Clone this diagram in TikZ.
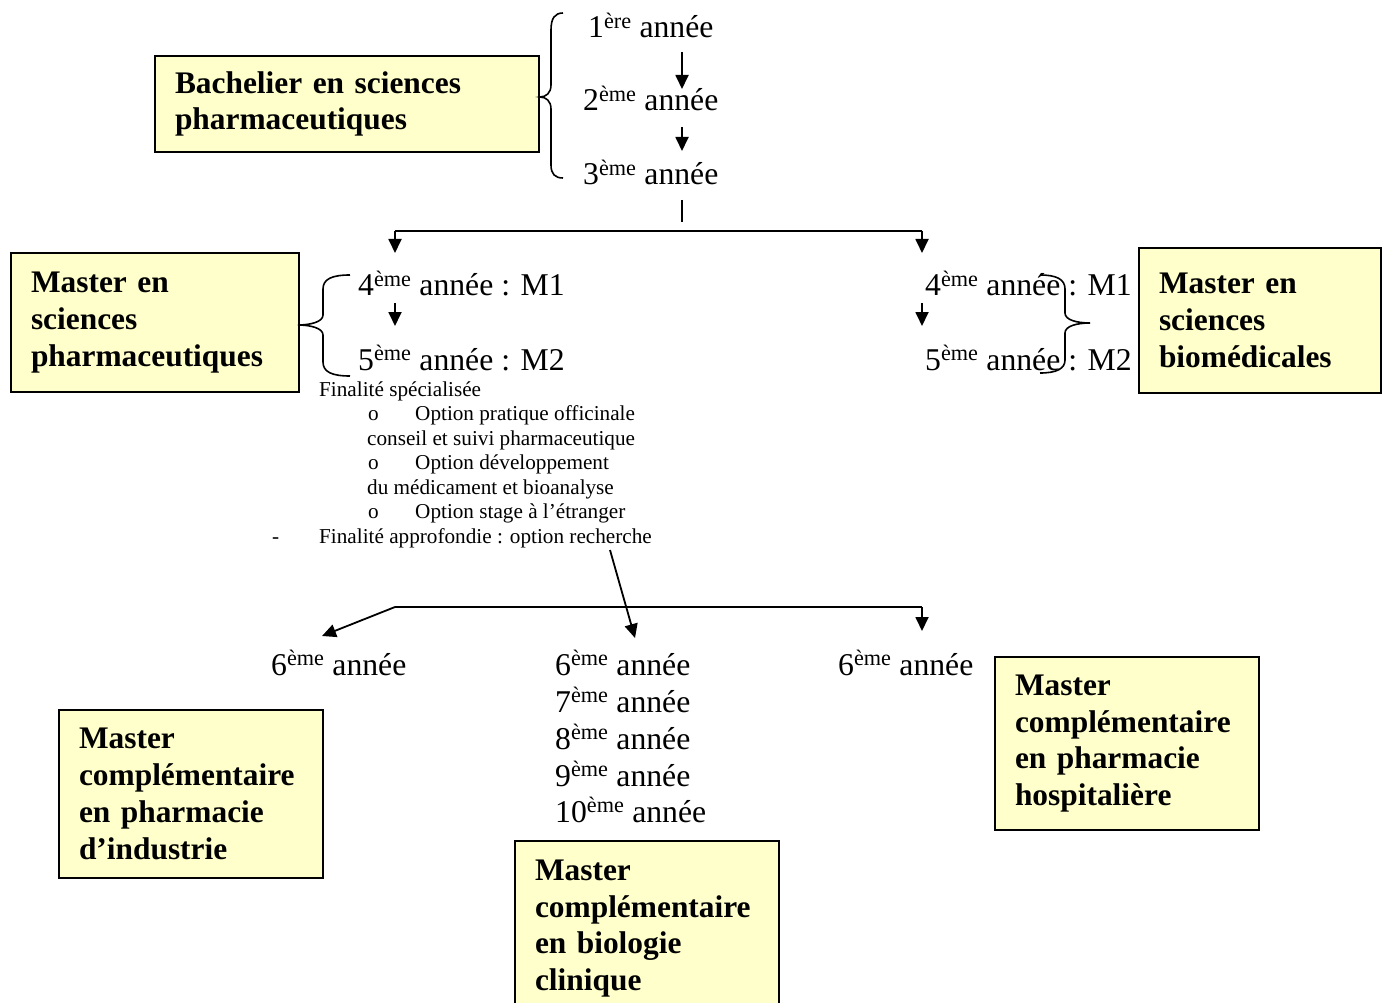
\documentclass[tikz,border=0pt]{standalone}
\usepackage{fontspec}
\setmainfont{Liberation Serif}
\usetikzlibrary{arrows.meta}
\definecolor{boxyellow}{RGB}{255,255,204}
\begin{document}
\begin{tikzpicture}[x=1pt,y=-1pt,
  box/.style={draw, line width=2pt, fill=boxyellow, inner xsep=20pt, inner ysep=0pt, align=left, anchor=north west, font=\fontsize{31.4}{36.8}\selectfont\bfseries},
  yr/.style={anchor=base west, inner sep=0pt, font=\fontsize{31.7}{36}\selectfont},
  sm/.style={anchor=base west, inner sep=0pt, font=\fontsize{21.2}{24}\selectfont},
  arr/.style={line width=1.8pt, -{Triangle[length=14pt,width=13pt]}},
  ln/.style={line width=1.8pt},
  brc/.style={line width=1.6pt}]
\useasboundingbox (0,0) rectangle (1385,1003);
\clip (0,0) rectangle (1385,1003);

% boxes
\node[box, text width=344pt, minimum height=96pt] (bach) at (154,55) {Bachelier en sciences\\pharmaceutiques};
\node[box, text width=248pt, minimum height=139pt] (msp) at (10,252) {Master en\\sciences\\pharmaceutiques};
\node[box, text width=202pt, minimum height=145pt] (msb) at (1138,247) {Master en\\sciences\\biomédicales};
\node[box, text width=224pt, minimum height=168pt] (mci) at (58,709) {Master\\complémentaire\\en pharmacie\\d’industrie};
\node[box, text width=224pt, minimum height=175pt] (mbc) at (514,840) {Master\\complémentaire\\en biologie\\clinique};
\node[box, text width=224pt, minimum height=173pt] (mph) at (994,656) {Master\\complémentaire\\en pharmacie\\hospitalière};

% years, bachelor
\node[yr] (y1) at (588,38) {1\textsuperscript{ère} année};
\node[yr] (y2) at (583,111) {2\textsuperscript{ème} année};
\node[yr] (y3) at (583,185) {3\textsuperscript{ème} année};

% master years
\node[yr] (l4) at (358,296) {4\textsuperscript{ème} année : M1};
\node[yr] (l5) at (358,370) {5\textsuperscript{ème} année : M2};
\node[yr] (r4) at (925,296) {4\textsuperscript{ème} année : M1};
\node[yr] (r5) at (925,370) {5\textsuperscript{ème} année : M2};

% options list
\node[sm] (f1) at (319,396) {Finalité spécialisée};
\node[sm] (o1) at (368,420) {o};
\node[sm] (t1) at (415,420) {Option pratique officinale};
\node[sm] (t1b) at (367,445) {conseil et suivi pharmaceutique};
\node[sm] (o2) at (368,469) {o};
\node[sm] (t2) at (415,469) {Option développement};
\node[sm] (t2b) at (367,494) {du médicament et bioanalyse};
\node[sm] (o3) at (368,518) {o};
\node[sm] (t3) at (415,518) {Option stage à l’étranger};
\node[sm] (dash) at (272,543) {-};
\node[sm] (f2) at (319,543) {Finalité approfondie : option recherche};

% sixth years and beyond
\node[yr] (s6a) at (271,675) {6\textsuperscript{ème} année};
\node[yr] (s6b) at (555,675) {6\textsuperscript{ème} année};
\node[yr] (s7b) at (555,712) {7\textsuperscript{ème} année};
\node[yr] (s8b) at (555,749) {8\textsuperscript{ème} année};
\node[yr] (s9b) at (555,786) {9\textsuperscript{ème} année};
\node[yr] (s10b) at (555,822) {10\textsuperscript{ème} année};
\node[yr] (s6c) at (838,675) {6\textsuperscript{ème} année};

% connector points
\coordinate (a1s) at (682,52);  \coordinate (a1e) at (682,89);
\coordinate (a2s) at (682,127); \coordinate (a2e) at (682,151);
\coordinate (v3s) at (682,200); \coordinate (v3e) at (682,222);
\coordinate (sL) at (395,231);  \coordinate (sR) at (922,231);
\coordinate (sLe) at (395,253); \coordinate (sRe) at (922,253);
\coordinate (l45s) at (395,303); \coordinate (l45e) at (395,326);
\coordinate (r45s) at (922,303); \coordinate (r45e) at (922,326);
\coordinate (ds) at (610,550);  \coordinate (de) at (635,638);
\coordinate (bL) at (395,607);  \coordinate (bR) at (922,607);
\coordinate (bLe) at (322,636); \coordinate (bRe) at (922,631);

\draw[arr] (a1s) -- (a1e);
\draw[arr] (a2s) -- (a2e);
\draw[ln] (v3s) -- (v3e);
\draw[ln] (sL) -- (sR);
\draw[arr] (sL) -- (sLe);
\draw[arr] (sR) -- (sRe);
\draw[arr] (l45s) -- (l45e);
\draw[arr] (r45s) -- (r45e);
\draw[arr] (ds) -- (de);
\draw[ln] (bL) -- (bR);
\draw[arr] (bL) -- (bLe);
\draw[arr] (bR) -- (bRe);

% braces
\draw[brc] (563,13) .. controls (555,13) and (551,18) .. (551,30) -- (551,85)
  .. controls (551,93) and (546,97) .. (540,97)
  .. controls (546,97) and (551,101) .. (551,109) -- (551,165)
  .. controls (551,174) and (555,178) .. (563,178);
\draw[brc] (350,275) .. controls (332,275) and (323,279) .. (323,289) -- (323,315)
  .. controls (323,322) and (310,325) .. (298,325)
  .. controls (310,325) and (323,328) .. (323,335) -- (323,362)
  .. controls (323,372) and (332,376) .. (350,376);
\draw[brc] (1040,275) .. controls (1056,275) and (1065,279) .. (1065,289) -- (1065,313)
  .. controls (1065,320) and (1077,323) .. (1090,323)
  .. controls (1077,323) and (1065,326) .. (1065,333) -- (1065,360)
  .. controls (1065,369) and (1056,373) .. (1040,373);
\end{tikzpicture}
\end{document}
